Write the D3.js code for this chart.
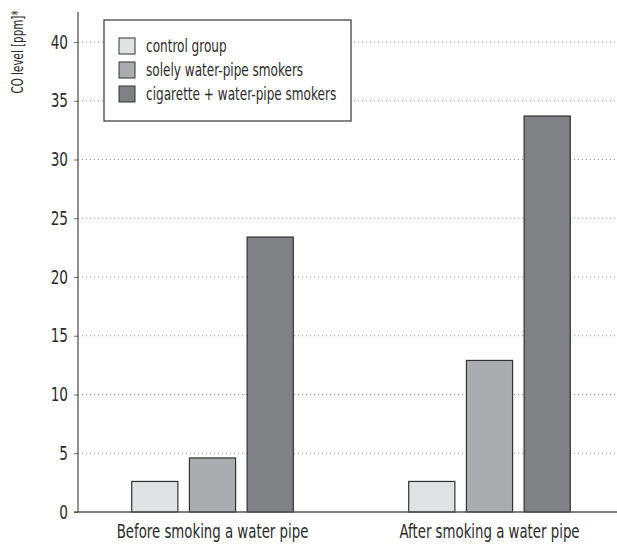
<!DOCTYPE html>
<html><head><meta charset="utf-8">
<script src="https://cdn.jsdelivr.net/npm/d3@7"></script>
<style>
body{margin:0;background:#fff;}
text{font-family:"DejaVu Sans Condensed","Liberation Sans",sans-serif;fill:#2b2b2b;}
</style></head>
<body><svg id="c" width="617" height="545"></svg>
<script>
const categories = ["Before smoking a water pipe", "After smoking a water pipe"];
const seriesNames = ["control group", "solely water-pipe smokers", "cigarette + water-pipe smokers"];
const controlGroup = [2.6, 2.6];
const solelyWaterPipe = [4.6, 12.9];
const cigaretteWaterPipe = [23.4, 33.7];
const yTicks = [0, 5, 10, 15, 20, 25, 30, 35, 40];
const colors = ["#e1e2e4", "#abacb0", "#808185"];

const series = [controlGroup, solelyWaterPipe, cigaretteWaterPipe];
const svg = d3.select("#c");
const mLeft = 78, mRight = 617, mTop = 12, mBottom = 512;
const FONT = '"DejaVu Sans Condensed","Liberation Sans",sans-serif';

const y = d3.scaleLinear().domain([0, 40]).range([mBottom, 42]);
const x0 = d3.scaleBand().domain(categories).range([74, 628]).paddingInner(0).paddingOuter(0);
const x1 = d3.scaleBand().domain(seriesNames).range([0, x0.bandwidth()]).paddingInner(0.2).paddingOuter(1.0);

// grid
svg.append("g").selectAll("line").data(yTicks.slice(1)).join("line")
  .attr("x1", mLeft).attr("x2", mRight).attr("y1", d => y(d)).attr("y2", d => y(d))
  .attr("stroke", "#8a8a8a").attr("stroke-width", 1).attr("stroke-dasharray", "1,3");

// bars
const g = svg.append("g");
categories.forEach((c, i) => {
  series.forEach((s, j) => {
    g.append("rect")
      .attr("x", x0(c) + x1(seriesNames[j]))
      .attr("y", y(s[i]))
      .attr("width", x1.bandwidth())
      .attr("height", y(0) - y(s[i]))
      .attr("fill", colors[j]).attr("stroke", "#333").attr("stroke-width", 1.2);
  });
});

// y axis
const yAxis = d3.axisLeft(y).tickValues(yTicks).tickSize(4).tickPadding(6);
const ya = svg.append("g").attr("transform", `translate(${mLeft},0)`).call(yAxis);
ya.select(".domain").remove();
ya.selectAll("line").attr("stroke", "#666");
const kY = 0.8;
ya.selectAll("text").style("font-size", "19px").style("font-family", FONT).attr("fill", "#2b2b2b")
  .attr("x", -10 / kY).attr("transform", `scale(${kY},1)`);
svg.append("line").attr("x1", mLeft).attr("x2", mLeft).attr("y1", mTop).attr("y2", mBottom).attr("stroke", "#555").attr("stroke-width", 1.3);
svg.append("line").attr("x1", mLeft - 4).attr("x2", mRight).attr("y1", mBottom).attr("y2", mBottom).attr("stroke", "#555").attr("stroke-width", 1.3);

// x labels
const xAxis = d3.axisBottom(x0).tickSize(0).tickPadding(13);
const xa = svg.append("g").attr("transform", `translate(0,${mBottom})`).call(xAxis);
xa.select(".domain").remove();
xa.selectAll("text").style("font-size", "19px").style("font-family", FONT).attr("fill", "#2b2b2b")
  .attr("transform", "scale(0.78,1)");

// y title
svg.append("text").attr("transform", "translate(23,52) rotate(-90) scale(0.72,1)").attr("text-anchor", "middle")
  .style("font-size", "16px").text("CO level [ppm]*");

// legend
const lg = svg.append("g").attr("transform", "translate(104,20)");
lg.append("rect").attr("width", 247).attr("height", 101).attr("fill", "#fff").attr("stroke", "#333").attr("stroke-width", 1.2);
seriesNames.forEach((n, j) => {
  lg.append("rect").attr("x", 15).attr("y", 18 + j * 24).attr("width", 16).attr("height", 16)
    .attr("fill", colors[j]).attr("stroke", "#333").attr("stroke-width", 1);
  lg.append("text").attr("transform", `translate(42,${32 + j * 24}) scale(0.79,1)`)
    .style("font-size", "17px").text(n);
});
</script></body></html>
